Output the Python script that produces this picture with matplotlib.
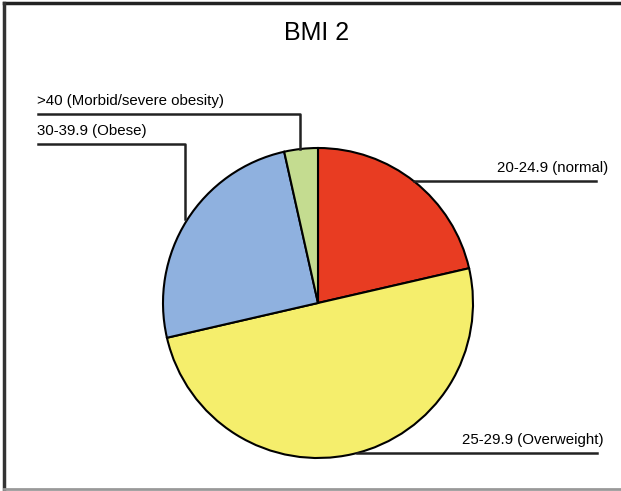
import matplotlib.pyplot as plt

# BMI 2 distribution (percent)
labels = ['20-24.9 (normal)', '25-29.9 (Overweight)', '30-39.9 (Obese)', '>40 (Morbid/severe obesity)']
values = [21.4, 50.0, 25.1, 3.5]
colors = ['#e83c22', '#f5ee6c', '#8fb1df', '#c4dc90']

W, H = 621, 491
fig = plt.figure(figsize=(W / 100, H / 100), dpi=100)
ax = fig.add_axes([0, 0, 1, 1])

plt.rcParams['font.family'] = ['Liberation Sans', 'DejaVu Sans']

cx, cy, r = 318, H - 303, 155
ax.pie(values, colors=colors, startangle=90, counterclock=False,
       center=(cx, cy), radius=r, frame=True,
       wedgeprops=dict(edgecolor='black', linewidth=1.5))
ax.set_xlim(0, W)
ax.set_ylim(0, H)
ax.set_aspect('equal')
ax.axis('off')

# frame around the figure
ax.plot([4, W], [H - 3, H - 3], color='#222222', lw=2.5)
ax.plot([4, 4], [H - 3, H - 489], color='#333333', lw=2.5)
ax.plot([4, W], [H - 489, H - 489], color='#999999', lw=2)

ax.text(317, H - 33, 'BMI 2', fontsize=18, ha='center', va='center')

lc = '#222222'
fs = 10.8
# left labels
ax.plot([38, 300, 300], [H - 114, H - 114, H - 149], color=lc, lw=1.8)
ax.text(37, H - 105, labels[3], fontsize=fs, ha='left', va='baseline')
ax.plot([38, 185, 185], [H - 144, H - 144, H - 219], color=lc, lw=1.8)
ax.text(37, H - 135, labels[2], fontsize=fs, ha='left', va='baseline')

# right labels
ax.plot([414, 596], [H - 181, H - 181], color=lc, lw=1.8)
ax.text(608, H - 172, labels[0], fontsize=fs, ha='right', va='baseline')
ax.plot([357, 597], [H - 453, H - 453], color=lc, lw=1.8)
ax.text(604, H - 444, labels[1], fontsize=fs, ha='right', va='baseline')

fig.savefig('out.png', dpi=100, facecolor='white')
